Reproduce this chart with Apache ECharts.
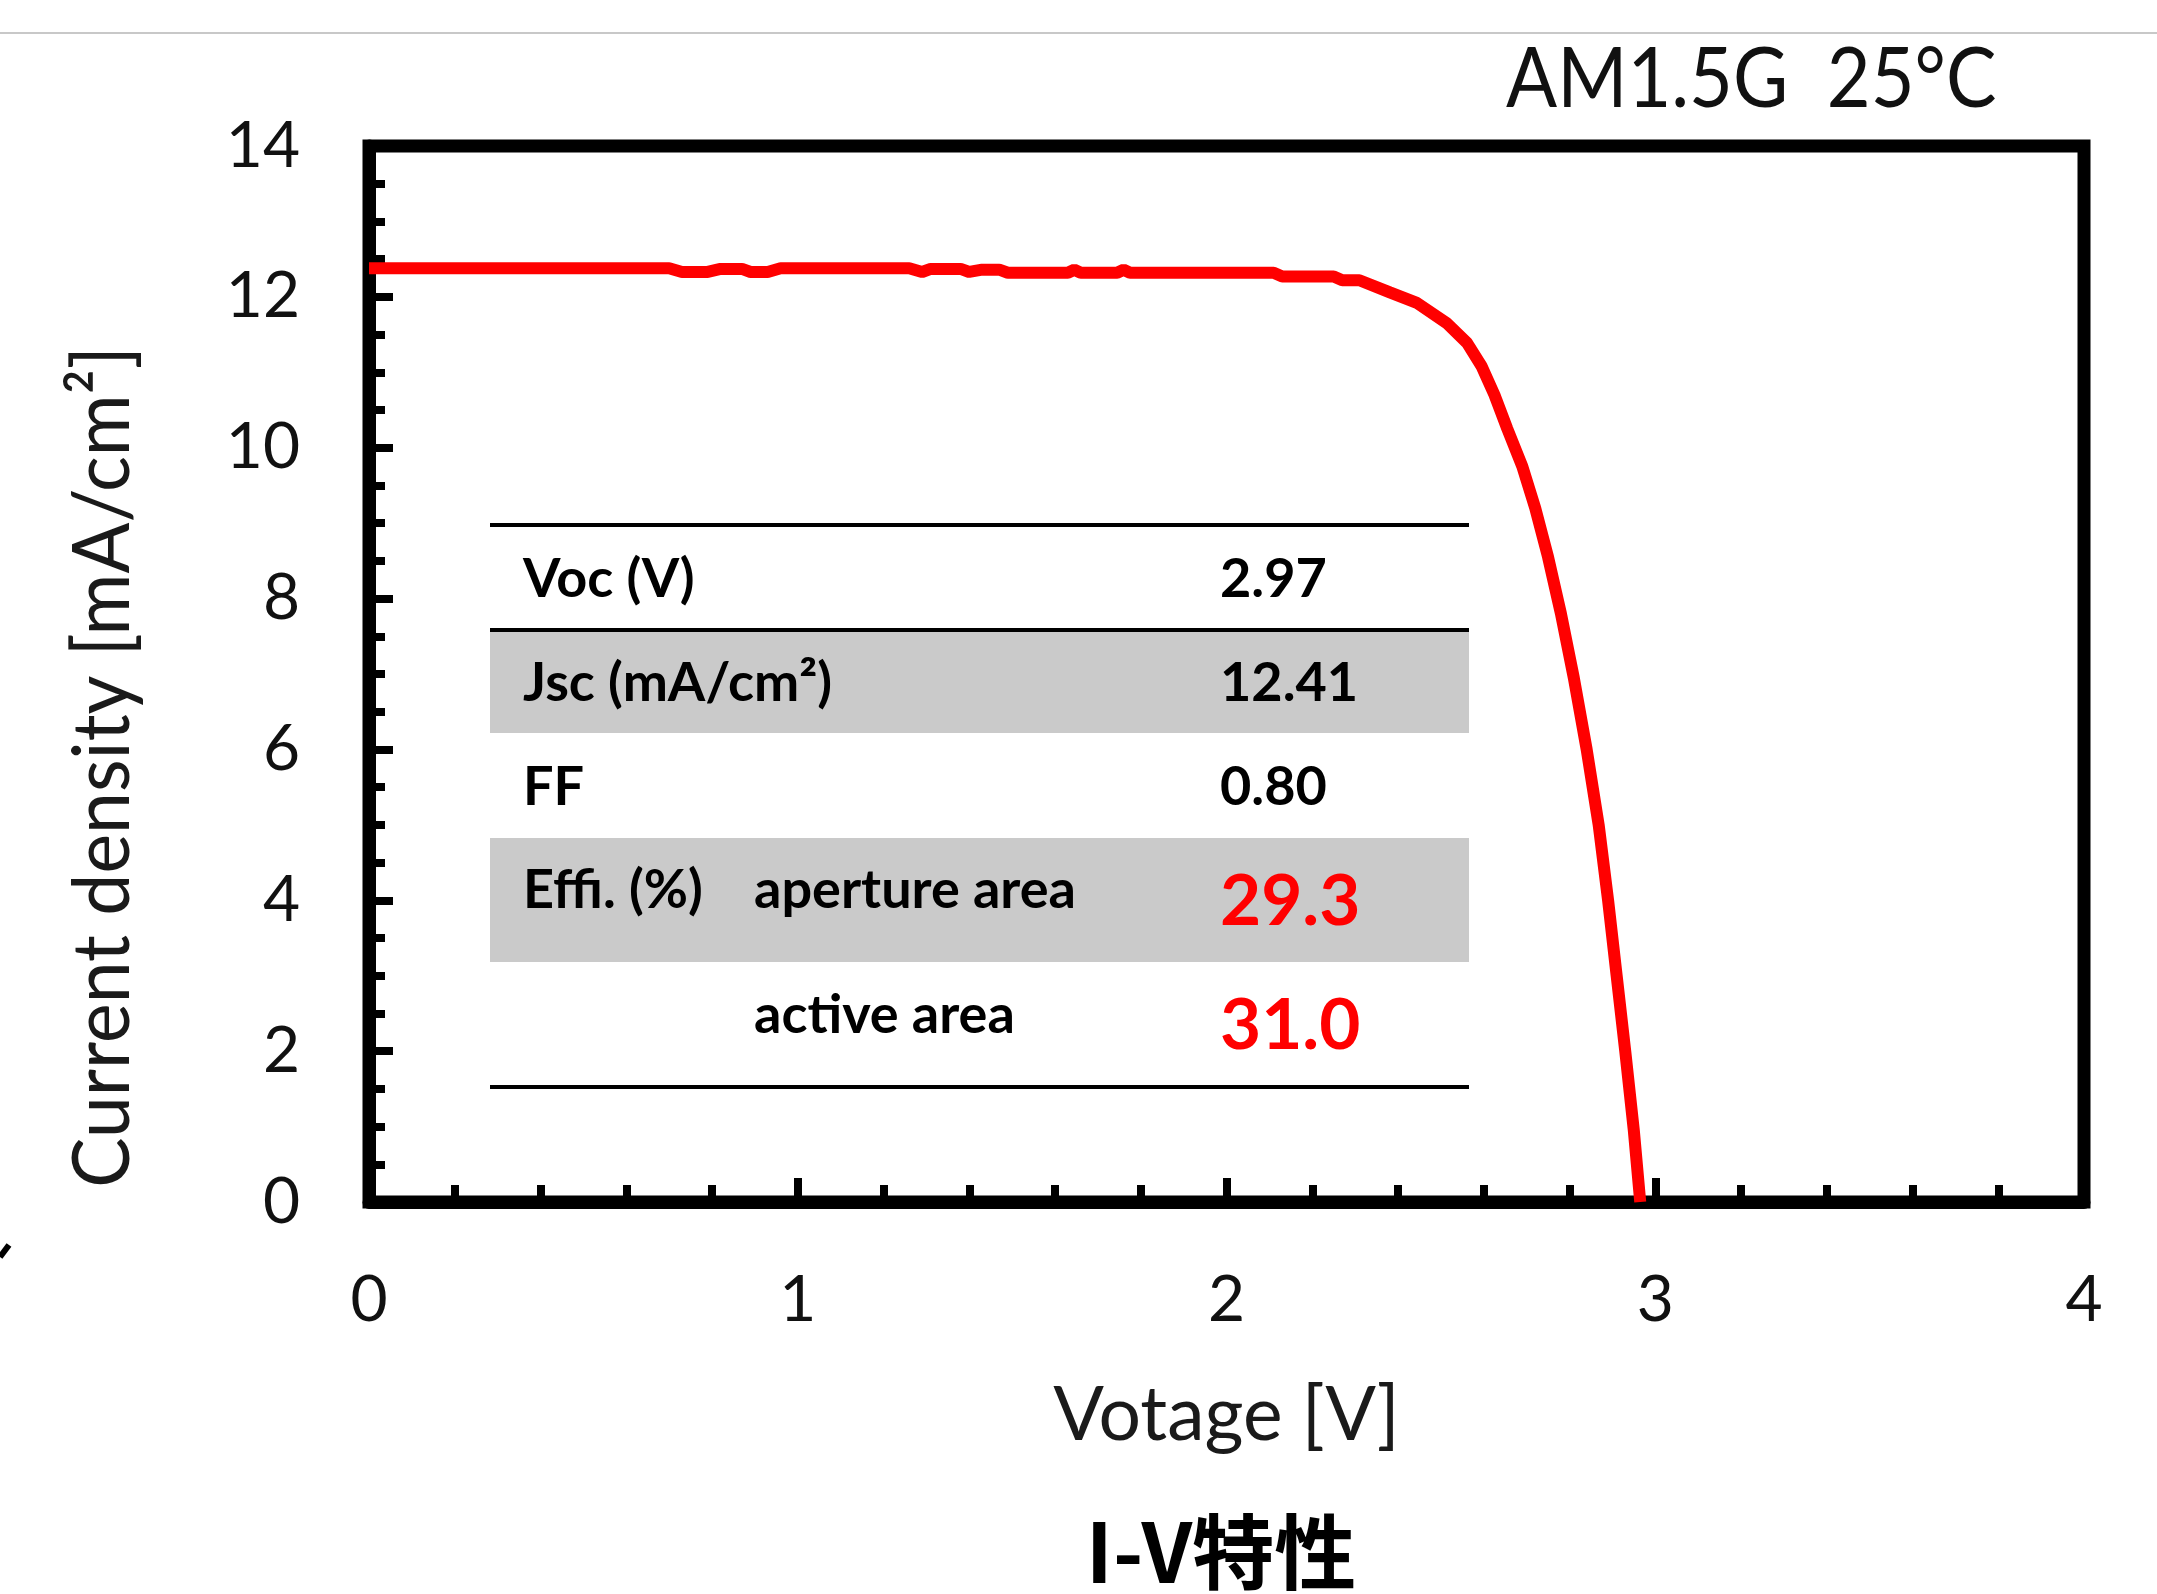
<!DOCTYPE html>
<html>
<head>
<meta charset="UTF-8">
<title>I-V特性</title>
<script src="https://cdn.jsdelivr.net/npm/echarts@6/dist/echarts.min.js"></script>
<style>
html, body { margin: 0; padding: 0; background: #fff; }
#main { width: 2157px; height: 1594px; }
</style>
</head>
<body>
<div id="main"></div>
<script>
// I-V curve
var voltage = [0.00, 0.70, 0.73, 0.79, 0.82, 0.87, 0.89, 0.93, 0.96, 1.26, 1.29, 1.31, 1.38, 1.40, 1.43, 1.47,
    1.49, 1.63, 1.645, 1.66, 1.745, 1.76, 1.775, 2.11, 2.13, 2.25, 2.27, 2.31,
    2.381, 2.444, 2.514, 2.561, 2.595, 2.625, 2.655, 2.690, 2.720, 2.750, 2.780, 2.810, 2.840, 2.868,
    2.890, 2.910, 2.930, 2.950, 2.965];
var current = [12.38, 12.38, 12.33, 12.33, 12.37, 12.37, 12.33, 12.33, 12.38, 12.38, 12.33, 12.37, 12.37, 12.33, 12.36, 12.36,
    12.32, 12.32, 12.36, 12.32, 12.32, 12.36, 12.32, 12.32, 12.27, 12.27, 12.22, 12.22,
    12.06, 11.92, 11.65, 11.39, 11.08, 10.70, 10.25, 9.75, 9.20, 8.55, 7.80, 6.95, 6.00, 5.00,
    4.00, 3.00, 2.00, 0.95, 0.00];

// parameter table
var tableNames = ['Voc (V)', 'Jsc (mA/cm²)', 'FF', 'Effi. (%)', ''];
var tableSubNames = ['', '', '', 'aperture area', 'active area'];
var tableValues = ['2.97', '12.41', '0.80', '29.3', '31.0'];
var tableHighlight = [false, false, false, true, true];

var conditionText = 'AM1.5G  25°C';
var xName = 'Votage [V]';
var yName = 'Current density [mA/cm²]';
var captionText = 'I-V特性';

var myChart = echarts.init(document.getElementById('main'));

var points = [];
for (var i = 0; i < voltage.length; i++) {
    points.push([voltage[i], current[i]]);
}

// table geometry
var tabLeft = 490, tabRight = 1469;
var rowEdges = [525, 630, 733, 838, 962, 1087];
var shaded = [false, true, false, true, false];

var graphics = [];
// thin rule at the top of the picture
graphics.push({ type: 'line', shape: { x1: 0, y1: 33, x2: 2157, y2: 33 }, style: { stroke: '#c8c8c8', lineWidth: 2 } });
// small stray mark on the left edge
graphics.push({ type: 'line', shape: { x1: 0, y1: 1257, x2: 9, y2: 1245 }, style: { stroke: '#000', lineWidth: 6 } });

for (var r = 0; r < tableNames.length; r++) {
    var rowTop = rowEdges[r], rowBottom = rowEdges[r + 1];
    var rowMid = (rowTop + rowBottom) / 2;
    if (shaded[r]) {
        graphics.push({ type: 'rect', shape: { x: tabLeft, y: rowTop, width: tabRight - tabLeft, height: rowBottom - rowTop },
            style: { fill: '#cacaca' }, z: 1 });
    }
    var labelY = tableHighlight[r] ? rowMid - 9 : rowMid + 2;
    if (tableNames[r]) {
        graphics.push({ type: 'text', x: 523, y: labelY, z: 3,
            style: { text: tableNames[r], fontSize: 54, fontWeight: 'bold', fontFamily: 'Lato', fill: '#000', align: 'left', verticalAlign: 'middle' } });
    }
    if (tableSubNames[r]) {
        graphics.push({ type: 'text', x: 754, y: labelY, z: 3,
            style: { text: tableSubNames[r], fontSize: 54, fontWeight: 'bold', fontFamily: 'Lato', fill: '#000', align: 'left', verticalAlign: 'middle' } });
    }
    graphics.push({ type: 'text', x: 1220, y: rowMid + 2, z: 3,
        style: { text: tableValues[r], fontSize: tableHighlight[r] ? 71 : 54, fontWeight: 'bold', fontFamily: 'Lato',
            fill: tableHighlight[r] ? '#ff0000' : '#000', align: 'left', verticalAlign: 'middle' } });
}
[525, 630, 1087].forEach(function (y) {
    graphics.push({ type: 'line', shape: { x1: tabLeft, y1: y, x2: tabRight, y2: y }, style: { stroke: '#000', lineWidth: 4 }, z: 2 });
});

// y axis name, rotated and a little condensed
graphics.push({ type: 'text', x: 103, y: 767, rotation: Math.PI / 2, scaleX: 0.94,
    style: { text: yName, fontSize: 80, fontFamily: 'Lato', fill: '#1a1a1a',
        align: 'center', verticalAlign: 'middle' } });
// measuring condition
graphics.push({ type: 'text', x: 1506, y: 80, scaleX: 0.9,
    style: { text: conditionText, fontSize: 84, fontFamily: 'Lato', fill: '#111',
        align: 'left', verticalAlign: 'middle' } });
// caption
graphics.push({ type: 'text', x: 1221, y: 1552,
    style: { text: captionText, fontSize: 82, fontWeight: 'bold', fontFamily: '"Noto Sans CJK JP", sans-serif', fill: '#000',
        align: 'center', verticalAlign: 'middle',
        shadowColor: 'rgba(0,0,0,0.45)', shadowBlur: 6, shadowOffsetX: 3, shadowOffsetY: 3 } });

var option = {
    backgroundColor: '#fff',
    animation: false,
    grid: {
        left: 369, right: 73, top: 146, bottom: 392,
        show: true, borderColor: '#000', borderWidth: 13
    },
    xAxis: {
        type: 'value', min: 0, max: 4, interval: 1,
        name: xName, nameLocation: 'middle', nameGap: 214,
        nameTextStyle: { fontSize: 75, fontFamily: 'Lato', color: '#1a1a1a', verticalAlign: 'middle' },
        axisLine: { show: true, lineStyle: { color: '#000', width: 13 } },
        axisTick: { show: true, inside: true, length: 24, lineStyle: { color: '#000', width: 8 } },
        minorTick: { show: true, splitNumber: 5, length: 17, lineStyle: { color: '#000', width: 8 } },
        axisLabel: { margin: 66, fontSize: 64, fontFamily: 'Lato', color: '#111' },
        splitLine: { show: false }
    },
    yAxis: {
        type: 'value', min: 0, max: 14, interval: 2,
        axisLine: { show: true, lineStyle: { color: '#000', width: 13 } },
        axisTick: { show: true, inside: true, length: 24, lineStyle: { color: '#000', width: 8 } },
        minorTick: { show: true, splitNumber: 4, length: 16, lineStyle: { color: '#000', width: 8 } },
        axisLabel: { margin: 69, fontSize: 64, fontFamily: 'Lato', color: '#111' },
        splitLine: { show: false }
    },
    series: [{
        type: 'line',
        data: points,
        symbol: 'none',
        lineStyle: { color: '#ff0000', width: 12 },
        z: 4
    }],
    graphic: graphics
};

myChart.setOption(option);
</script>
</body>
</html>
